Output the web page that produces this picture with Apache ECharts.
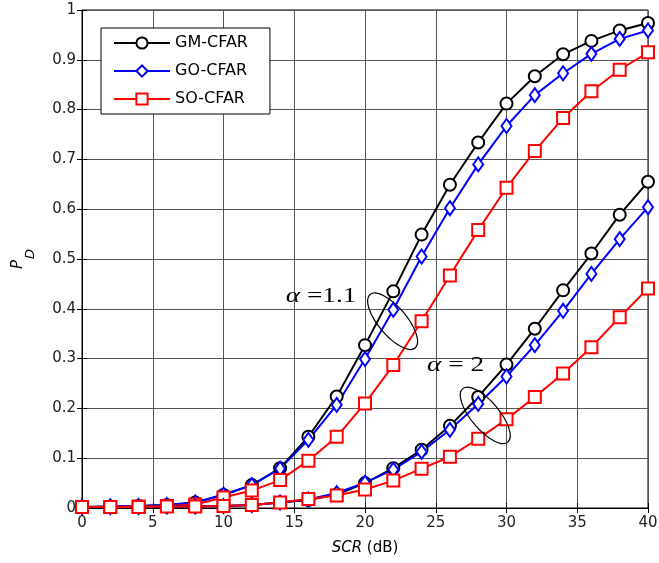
<!DOCTYPE html>
<html>
<head>
<meta charset="utf-8">
<title></title>
<style>
	* { margin: 0; padding: 0; }
	html, body { width: 100%; height: 100%; background: #fff; }
	#main { width: 659px; height: 563px; }
</style>
</head>
<body>
<div id="main"></div>
<script src="https://cdn.jsdelivr.net/npm/echarts@6/dist/echarts.min.js"></script>
<script>
	// SCR in dB
	var scr = [0, 2, 4, 6, 8, 10, 12, 14, 16, 18, 20, 22, 24, 26, 28, 30, 32, 34, 36, 38, 40]

	// alpha = 1.1
	var gm11 = [0.002, 0.003, 0.004, 0.006, 0.011, 0.026, 0.046, 0.080, 0.143, 0.224, 0.327, 0.435, 0.549, 0.649, 0.734, 0.812, 0.867, 0.911, 0.938, 0.959, 0.974]
	var go11 = [0.002, 0.003, 0.004, 0.006, 0.011, 0.027, 0.046, 0.079, 0.137, 0.207, 0.299, 0.398, 0.505, 0.602, 0.690, 0.767, 0.829, 0.873, 0.912, 0.942, 0.959]
	var so11 = [0.002, 0.002, 0.003, 0.004, 0.007, 0.021, 0.035, 0.056, 0.095, 0.143, 0.210, 0.287, 0.375, 0.467, 0.558, 0.643, 0.717, 0.783, 0.837, 0.880, 0.915]

	// alpha = 2
	var gm2 = [0.002, 0.002, 0.002, 0.003, 0.003, 0.004, 0.006, 0.011, 0.016, 0.027, 0.050, 0.080, 0.117, 0.165, 0.223, 0.288, 0.360, 0.437, 0.511, 0.589, 0.655]
	var go2 = [0.002, 0.002, 0.002, 0.003, 0.003, 0.004, 0.006, 0.011, 0.017, 0.030, 0.051, 0.077, 0.113, 0.157, 0.209, 0.264, 0.327, 0.396, 0.470, 0.540, 0.604]
	var so2 = [0.002, 0.002, 0.002, 0.003, 0.003, 0.004, 0.006, 0.011, 0.018, 0.025, 0.037, 0.055, 0.079, 0.103, 0.139, 0.178, 0.223, 0.270, 0.323, 0.383, 0.441]

	var names = ['GM-CFAR', 'GO-CFAR', 'SO-CFAR']

	function pairs(ys) {
		var out = []
		for (let i = 0; i < scr.length; i++) {
			out.push([scr[i], ys[i]])
		}
		return out
	}

	var styles = {
		'GM-CFAR': { color: '#000000', symbol: 'emptyCircle', size: 12 },
		'GO-CFAR': { color: '#0000ff', symbol: 'emptyDiamond', size: [10, 14] },
		'SO-CFAR': { color: '#ff0000', symbol: 'emptyRect', size: 12 }
	}

	function makeSeries(name, ys) {
		var st = styles[name]
		return {
			name: name,
			type: 'line',
			data: pairs(ys),
			symbol: st.symbol,
			symbolSize: st.size,
			color: st.color,
			lineStyle: { width: 2, color: st.color },
			itemStyle: { color: st.color, borderWidth: 2, borderColor: st.color },
			animation: false
		}
	}

	var font = 'DejaVu Sans, Liberation Sans, sans-serif'
	var myChart = echarts.init(document.getElementById('main'))

	var option = {
		backgroundColor: '#fff',
		animation: false,
		textStyle: { fontFamily: font },
		grid: {
			left: 82, right: 11, top: 10, bottom: 55,
			outerBoundsMode: 'none',
			containLabel: false,
			show: true, borderColor: '#000', borderWidth: 1
		},
		legend: {
			data: names,
			orient: 'vertical',
			left: 101,
			top: 28,
			padding: [7, 22, 7, 12],
			itemWidth: 56,
			itemHeight: 14,
			itemGap: 12,
			backgroundColor: '#fff',
			borderColor: '#000',
			borderWidth: 1,
			textStyle: { fontSize: 16, color: '#000', fontFamily: font }
		},
		xAxis: [{
			type: 'value',
			min: 0, max: 40, interval: 5,
			name: '{i|SCR} (dB)',
			nameLocation: 'middle',
			nameGap: 33,
			nameTextStyle: {
				fontSize: 15, color: '#000', fontFamily: font,
				rich: { i: { fontStyle: 'italic', fontSize: 15, fontFamily: font } }
			},
			axisLine: { lineStyle: { color: '#000', width: 1 } },
			axisTick: { inside: true, length: 5, lineStyle: { color: '#000' } },
			axisLabel: { fontSize: 15, color: '#222', margin: 8 },
			splitLine: { show: true, lineStyle: { color: '#555', width: 1 } }
		}, {
			type: 'value',
			position: 'top',
			min: 0, max: 40, interval: 5,
			axisLine: { lineStyle: { color: '#000' } },
			axisTick: { inside: true, length: 5, lineStyle: { color: '#000' } },
			axisLabel: { show: false },
			splitLine: { show: false }
		}],
		yAxis: [{
			type: 'value',
			min: 0, max: 1, interval: 0.1,
			name: '{i|P}{s|D}',
			nameLocation: 'middle',
			nameGap: 45,
			nameTextStyle: {
				color: '#000',
				rich: {
					i: { fontStyle: 'italic', fontSize: 15, fontFamily: font },
					s: { fontStyle: 'italic', fontSize: 13, fontFamily: font, padding: [24, 0, 0, 1] }
				}
			},
			axisLine: { lineStyle: { color: '#000', width: 1 } },
			axisTick: { inside: true, length: 5, lineStyle: { color: '#000' } },
			axisLabel: { fontSize: 15, color: '#222', margin: 6 },
			splitLine: { show: true, lineStyle: { color: '#555', width: 1 } }
		}, {
			type: 'value',
			position: 'right',
			min: 0, max: 1, interval: 0.1,
			axisLine: { lineStyle: { color: '#000' } },
			axisTick: { inside: true, length: 5, lineStyle: { color: '#000' } },
			axisLabel: { show: false },
			splitLine: { show: false }
		}],
		series: [
			makeSeries('GM-CFAR', gm11),
			makeSeries('GO-CFAR', go11),
			makeSeries('SO-CFAR', so11),
			makeSeries('GM-CFAR', gm2),
			makeSeries('GO-CFAR', go2),
			makeSeries('SO-CFAR', so2)
		]
	}
	myChart.setOption(option)

	// annotations placed in data coordinates
	function px(x, y) {
		return myChart.convertToPixel({ gridIndex: 0 }, [x, y])
	}
	var e1 = px(21.95, 0.375)
	var e2 = px(28.5, 0.186)
	var t1 = px(16.9, 0.425)
	var t2 = px(26.4, 0.287)
	var serif = 'Liberation Serif, Times New Roman, serif'

	function ellipse(c) {
		return {
			type: 'ellipse', x: c[0], y: c[1], rotation: -0.87,
			shape: { cx: 0, cy: 0, rx: 35, ry: 14 },
			style: { fill: 'none', stroke: '#000', lineWidth: 1.2 }, z: 10
		}
	}

	function label(c, txt) {
		return {
			type: 'text', x: c[0], y: c[1], z: 10, scaleX: 1.3,
			style: {
				text: txt, fontSize: 21, fontFamily: serif, fill: '#000',
				align: 'center', verticalAlign: 'middle',
				rich: { a: { fontStyle: 'italic', fontSize: 21, fontFamily: serif } }
			}
		}
	}

	myChart.setOption({
		graphic: [
			ellipse(e1),
			ellipse(e2),
			label(t1, '{a|α} =1.1'),
			label(t2, '{a|α} = 2')
		]
	})
</script>
</body>
</html>
